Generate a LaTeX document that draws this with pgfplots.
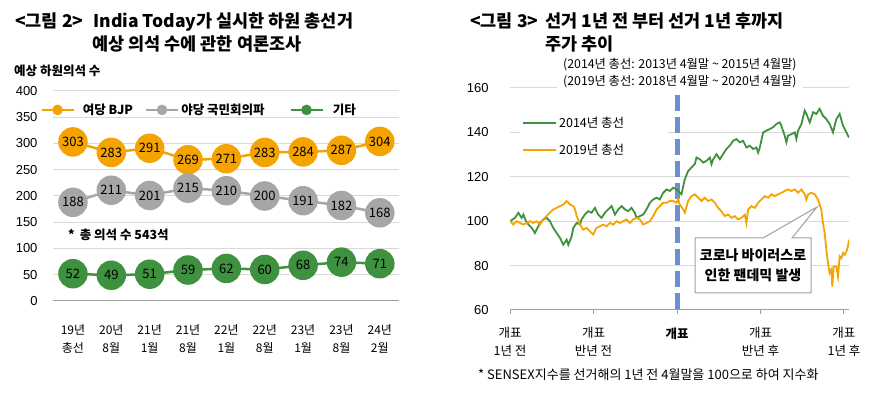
\documentclass[border=0pt]{standalone}
\usepackage{pgfplots}
\pgfplotsset{compat=1.18}
\usepackage{fontspec}
\setmainfont{Noto Sans CJK KR}
\newfontfamily\lat{Liberation Sans}
\definecolor{cOr}{RGB}{245,163,0}
\definecolor{cGy}{RGB}{166,166,166}
\definecolor{cGn}{RGB}{62,145,62}
\definecolor{cGrid}{RGB}{217,217,217}
\definecolor{cAx}{RGB}{160,160,160}
\definecolor{cBl}{RGB}{108,143,210}
\newcommand{\fs}[2]{\fontsize{#1bp}{#2bp}\selectfont}
\begin{document}
\begin{tikzpicture}
\useasboundingbox (0bp,0bp) rectangle (874bp,397bp);
% ---------------- left chart ----------------
\begin{axis}[
  at={(53bp,96bp)}, anchor=south west, scale only axis, width=346bp, height=210bp,
  xmin=-0.52, xmax=8.5, ymin=0, ymax=400,
  ytick={50,100,...,400}, extra y ticks={0},
  extra y tick style={grid style={cAx, line width=1bp}},
  ymajorgrids, grid style={cGrid, line width=1bp},
  axis line style={draw=none}, major tick length=0pt,
  xtick={0,...,8},
  xticklabels={{19년\\총선},{20년\\8월},{21년\\1월},{21년\\8월},{22년\\1월},{22년\\8월},{23년\\1월},{23년\\8월},{24년\\2월}},
  xticklabel style={align=center, font=\fs{12}{18}, yshift=-20bp},
  yticklabel style={font=\lat\fs{13}{13}, xshift=-12bp},
  /pgf/number format/assume math mode=true,
  clip=false,
  legend columns=3,
  legend style={at={(0.8786,0.91)}, anchor=east, draw=none, fill=white, font=\bfseries\fs{12.5}{12.5},
    inner sep=1pt, column sep=0pt, nodes={inner sep=0pt}},
  legend image code/.code={\draw[#1, mark=none] (0bp,0bp) -- (32bp,0bp); \path[#1, mark size=4bp] plot coordinates {(16bp,0bp)};},
  every axis plot/.append style={line width=2.5bp, mark=*, mark size=13.5bp,
    nodes near coords, point meta=y,
    nodes near coords align={center},
    every node near coord/.append style={anchor=center, font=\fs{13}{13}, text=black}},
]
\addplot[color=cOr, mark options={fill=cOr, draw=cOr}] coordinates {(0,303) (1,283) (2,291) (3,269) (4,271) (5,283) (6,284) (7,287) (8,304)};
\addlegendentry{\hspace{8bp}\makebox[62bp][l]{여당 BJP}}
\addplot[color=cGy, mark options={fill=cGy, draw=cGy}] coordinates {(0,188) (1,211) (2,201) (3,215) (4,210) (5,200) (6,191) (7,182) (8,168)};
\addlegendentry{\hspace{2bp}\makebox[108bp][l]{야당 국민회의파}}
\addplot[color=cGn, mark options={fill=cGn, draw=cGn}] coordinates {(0,52) (1,49) (2,51) (3,59) (4,62) (5,60) (6,68) (7,74) (8,71)};
\addlegendentry{\hspace{9bp}기타}
\end{axis}
\node[anchor=base west, font=\bfseries\fs{17.5}{17.5}, inner sep=0pt] at (15bp,369bp) {<그림 2>\hspace{10bp}India Today가 실시한 하원 총선거};
\node[anchor=base west, font=\bfseries\fs{17.5}{17.5}, inner sep=0pt] at (92bp,346bp) {예상 의석 수에 관한 여론조사};
\node[anchor=base west, font=\bfseries\fs{12.5}{12.5}, inner sep=0pt] at (14bp,321bp) {예상 하원의석 수};
\node[anchor=base west, font=\bfseries\fs{12.5}{12.5}, inner sep=0pt] at (68bp,157bp) {*\hspace{5bp}총 의석 수 543석};
% ---------------- right chart ----------------
\begin{axis}[
  at={(510bp,87bp)}, anchor=south west, scale only axis, width=339bp, height=222bp,
  xmin=0, xmax=24.36, ymin=60, ymax=160,
  ytick={80,100,...,160}, extra y ticks={60},
  extra y tick style={grid style={cAx, line width=1bp}},
  ymajorgrids, grid style={cGrid, line width=1bp},
  axis line style={draw=none},
  xtick={0,6,12,18,24}, xtick pos=lower, tick align=outside, major tick length=4bp,
  xtick style={cAx, line width=1bp}, ytick style={draw=none},
  xticklabels={{개표\\1년 전},{개표\\반년 전},{\textbf{개표}},{개표\\반년 후},{개표\\1년 후}},
  xticklabel style={align=center, font=\fs{12.5}{18}, yshift=-10bp},
  yticklabel style={font=\lat\fs{13}{13}, xshift=-14bp},
  /pgf/number format/assume math mode=true,
  legend columns=1,
  legend style={at={(0.03,0.782)}, anchor=west, draw=none, fill=white, font=\fs{12.5}{12.5},
    row sep=11bp, inner xsep=2bp},
  legend image code/.code={\draw[#1] (0bp,0bp) -- (33bp,0bp);},
]
\addplot[cBl, line width=5bp, dash pattern=on 16bp off 6bp, forget plot] coordinates {(12,157) (12,60)};
\addplot[cGn, line width=1.8bp] coordinates {
(0,100) (0.36,101.5) (0.60,103.8) (0.84,101.5) (0.96,103.0) (1.15,100) (1.32,98.5) (1.56,97.0) (1.79,94.7) (1.91,96.2) (2.15,99.2) (2.39,100.8) (2.63,101.5) (2.87,100) (3.11,97.0) (3.35,94.7) (3.59,92.5) (3.83,89.4) (4.07,91.7) (4.19,89.4) (4.43,93.2) (4.55,97.0) (4.79,99.2) (5.03,98.5) (5.14,100.8) (5.38,103.0) (5.62,104.5) (5.86,103.8) (6.10,106.0) (6.34,103.0) (6.58,101.5) (6.82,103.8) (7.06,105.3) (7.30,106.8) (7.54,103.0) (7.78,105.3) (8.02,106.8) (8.26,105.3) (8.49,104.5) (8.73,106.0) (8.97,103.8) (9.09,101.5) (9.33,102.3) (9.57,103.0) (9.81,105.3) (10.05,108.3) (10.29,109.8) (10.53,110.6) (10.77,109.8) (11.01,112.8) (11.25,114.3) (11.49,113.6) (11.73,115.1) (11.97,114.3) (12.20,112.8) (12.32,112.1) (12.56,118.9) (12.80,122.6) (13.04,124.2) (13.28,125.7) (13.40,128.7) (13.64,127.9) (13.88,126.4) (14.12,127.2) (14.36,128.7) (14.48,125.7) (14.60,127.9) (14.84,130.2) (15.08,127.9) (15.31,130.2) (15.55,132.5) (15.79,134.0) (16.03,136.2) (16.27,137.0) (16.51,135.5) (16.75,136.2) (16.99,133.2) (17.23,134.0) (17.47,132.5) (17.71,133.2) (17.83,130.9) (17.95,133.2) (18.19,140.0) (18.43,140.8) (18.66,141.5) (18.90,142.3) (19.14,143.8) (19.38,144.5) (19.50,143.0) (19.74,138.5) (19.86,135.5) (19.98,138.5) (20.22,139.2) (20.46,140.0) (20.58,137.0) (20.70,140.8) (20.94,143.8) (21.18,149.8) (21.30,148.3) (21.54,144.5) (21.78,149.1) (22.01,148.3) (22.25,150.6) (22.49,147.5) (22.73,146.0) (22.97,143.8) (23.21,140.0) (23.45,146.0) (23.69,148.3) (23.93,143.0) (24.17,140.0) (24.36,137.7)};
\addlegendentry{\makebox[105bp][l]{2014년 총선}}
\addplot[cOr, line width=1.8bp] coordinates {
(0,100) (0.24,98.5) (0.48,100) (0.72,99.2) (0.96,98.5) (1.20,99.2) (1.44,100) (1.67,99.2) (1.91,100) (2.15,98.5) (2.39,100.8) (2.63,102.3) (2.87,103.8) (3.11,105.3) (3.35,106.0) (3.59,106.8) (3.83,107.5) (4.07,109.1) (4.31,107.5) (4.55,106.8) (4.67,105.3) (4.79,102.3) (5.03,98.5) (5.26,96.2) (5.50,97.0) (5.74,95.5) (5.98,94.0) (6.22,97.0) (6.46,97.7) (6.70,98.5) (6.94,97.7) (7.18,99.2) (7.42,98.5) (7.66,100) (7.90,99.2) (8.14,100) (8.37,100.8) (8.61,99.2) (8.85,100.8) (9.09,101.5) (9.33,100.8) (9.57,98.5) (9.81,99.2) (10.05,100) (10.29,102.3) (10.53,105.3) (10.77,106.8) (11.01,108.3) (11.25,108.3) (11.49,109.1) (11.73,109.1) (11.97,108.3) (12.08,110.0) (12.20,107.5) (12.44,105.3) (12.56,103.8) (12.80,109.1) (13.04,111.3) (13.28,112.1) (13.52,110.6) (13.76,109.1) (14.00,110.6) (14.24,109.1) (14.48,109.8) (14.72,108.3) (14.96,106.0) (15.19,104.5) (15.43,102.3) (15.67,103.0) (15.91,101.5) (16.15,102.3) (16.39,100.8) (16.63,101.5) (16.87,103.0) (16.99,99.2) (17.11,105.3) (17.35,106.8) (17.59,106.0) (17.83,108.3) (18.07,109.8) (18.31,111.3) (18.55,110.6) (18.78,112.1) (19.02,111.3) (19.26,112.1) (19.50,112.8) (19.74,113.6) (19.98,114.3) (20.22,113.6) (20.46,114.3) (20.70,112.8) (20.94,114.3) (21.18,112.1) (21.30,109.8) (21.42,112.1) (21.66,112.8) (21.90,112.1) (22.13,109.8) (22.37,105.3) (22.49,99.2) (22.61,94.7) (22.73,87.2) (22.85,81.1) (22.97,76.6) (23.09,78.1) (23.16,70.6) (23.26,79.6) (23.45,79.6) (23.57,75.1) (23.69,84.2) (23.81,83.4) (23.93,85.7) (24.05,84.9) (24.17,86.4) (24.29,88.7) (24.36,91.7)};
\addlegendentry{\makebox[105bp][l]{2019년 총선}}
\end{axis}
% callout
\draw[cAx, line width=1bp, fill=white] (695bp,159bp) -- (763bp,159bp) -- (817bp,190bp) -- (792bp,159bp) -- (811bp,159bp) -- (811bp,104bp) -- (695bp,104bp) -- cycle;
\node[align=center, font=\bfseries\fs{14}{20}] at (753bp,132bp) {코로나 바이러스로\\인한 팬데믹 발생};
\node[anchor=base west, font=\bfseries\fs{17.5}{17.5}, inner sep=0pt] at (470bp,369bp) {<그림 3>\hspace{7bp}선거 1년 전 부터 선거 1년 후까지};
\node[anchor=base west, font=\bfseries\fs{17.5}{17.5}, inner sep=0pt] at (545bp,346bp) {주가 추이};
\node[anchor=base west, font=\fs{12.3}{12.3}, fill=white, inner xsep=6bp, inner ysep=1bp] at (557bp,328bp) {(2014년 총선: 2013년 4월말 \textasciitilde{} 2015년 4월말)};
\node[anchor=base west, font=\fs{12.3}{12.3}, fill=white, inner xsep=6bp, inner ysep=2bp] at (557bp,311bp) {(2019년 총선: 2018년 4월말 \textasciitilde{} 2020년 4월말)};
\node[anchor=base west, font=\fs{13}{13}, inner sep=0pt] at (478bp,18bp) {* SENSEX지수를 선거해의 1년 전 4월말을 100으로 하여 지수화};
\end{tikzpicture}
\end{document}
